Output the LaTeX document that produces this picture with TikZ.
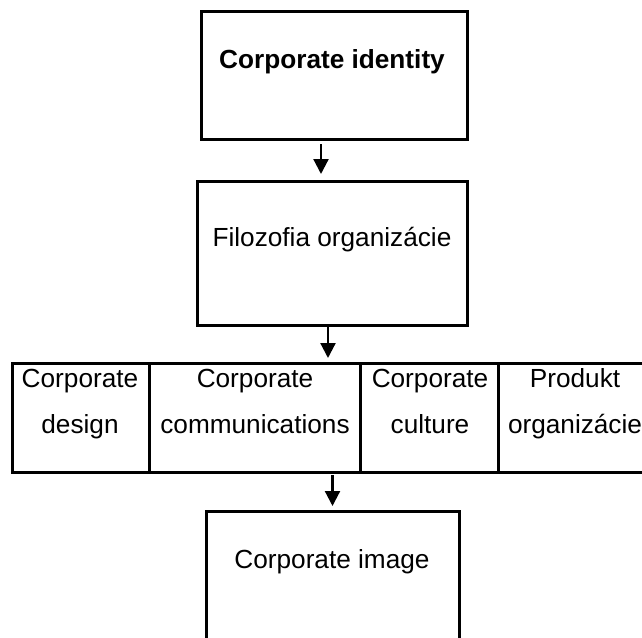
\documentclass[tikz,border=0pt]{standalone}
\usepackage{fontspec}
\setmainfont{Liberation Sans}
\usetikzlibrary{arrows.meta}
\begin{document}
\begin{tikzpicture}[x=1pt,y=-1pt,
  box/.style={draw=black, line width=3pt, rectangle, inner sep=0pt, outer sep=0pt},
  lbl/.style={anchor=base, inner sep=0pt, outer sep=0pt, font=\fontsize{26.2pt}{30pt}\selectfont},
  arr/.style={draw=black, line width=2.2pt, -{Triangle[length=15pt,width=15pt]}}]
\useasboundingbox (0,0) rectangle (642,637);
\clip (0,0) rectangle (642,637);
% boxes
\node[box, minimum width=266pt, minimum height=128pt] (b1) at (334,75.5) {};
\node[box, minimum width=270pt, minimum height=144pt] (b2) at (332,253) {};
\node[box, minimum width=137pt, minimum height=109pt] (c1) at (80.5,417.5) {};
\node[box, minimum width=211pt, minimum height=109pt] (c2) at (254.5,417.5) {};
\node[box, minimum width=138pt, minimum height=109pt] (c3) at (429,417.5) {};
\node[box, minimum width=154pt, minimum height=109pt] (c4) at (575,417.5) {};
\node[box, minimum width=253pt, minimum height=160pt] (b4) at (332.5,591.5) {};
% texts
\node[lbl, font=\fontsize{26.2pt}{30pt}\selectfont\bfseries] (t1) at (332,68) {Corporate identity};
\node[lbl] (t2) at (332,246) {Filozofia organizácie};
\node[lbl] (t3a) at (80,387) {Corporate};
\node[lbl] (t3b) at (80,433) {design};
\node[lbl] (t4a) at (255,387) {Corporate};
\node[lbl] (t4b) at (255,433) {communications};
\node[lbl] (t5a) at (430,387) {Corporate};
\node[lbl] (t5b) at (430,433) {culture};
\node[lbl] (t6a) at (575,387) {Produkt};
\node[lbl] (t6b) at (575,433) {organizácie};
\node[lbl] (t7) at (332,568) {Corporate image};
% arrows
\draw[arr, shorten <=4.5pt, shorten >=7pt] ([xshift=-13pt]b1.south) -- ([xshift=-11pt]b2.north);
\draw[arr, shorten <=1.5pt, shorten >=5pt] ([xshift=-4pt]b2.south) -- ([xshift=-4pt]b2.south |- c2.north);
\draw[arr, shorten <=3pt, shorten >=5.5pt] (c2.south -| b4.north) -- (b4.north);
\end{tikzpicture}
\end{document}
